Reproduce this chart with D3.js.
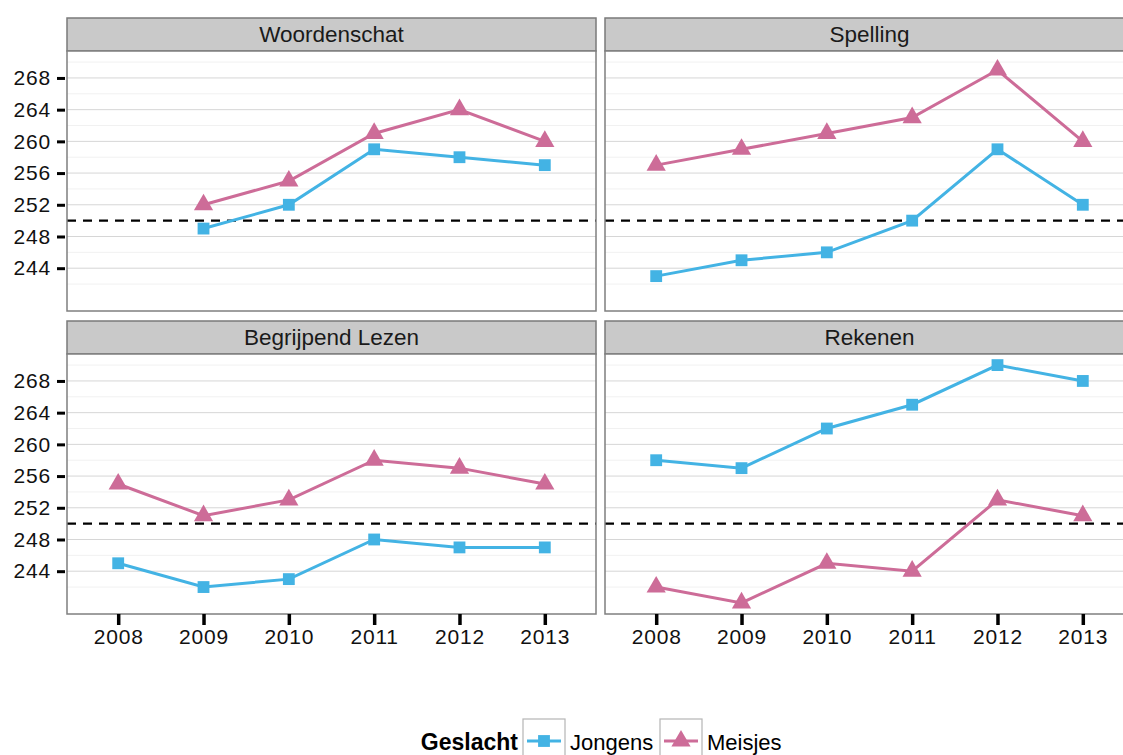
<!DOCTYPE html>
<html>
<head>
<meta charset="utf-8">
<script src="https://cdn.jsdelivr.net/npm/d3@7"></script>
<style>
  body { margin: 0; background: #fff; }
  svg { display: block; font-family: "Liberation Sans", Arial, sans-serif; }
</style>
</head>
<body>
<div id="chart"></div>
<script>
/* Small multiples: scores per subject, boys vs girls */

// data
const years = [2008, 2009, 2010, 2011, 2012, 2013];
const subjects = ["Woordenschat", "Spelling", "Begrijpend Lezen", "Rekenen"];
const woordenschatJongens = [null, 249, 252, 259, 258, 257];
const woordenschatMeisjes = [null, 252, 255, 261, 264, 260];
const spellingJongens = [243, 245, 246, 250, 259, 252];
const spellingMeisjes = [257, 259, 261, 263, 269, 260];
const lezenJongens = [245, 242, 243, 248, 247, 247];
const lezenMeisjes = [255, 251, 253, 258, 257, 255];
const rekenenJongens = [258, 257, 262, 265, 270, 268];
const rekenenMeisjes = [242, 240, 245, 244, 253, 251];
const yTicks = [244, 248, 252, 256, 260, 264, 268];
const yMinorTicks = [242, 246, 254, 258, 262, 266, 270];
const reference = 250;
const groups = ["Jongens", "Meisjes"];

const jongensBySubject = [woordenschatJongens, spellingJongens, lezenJongens, rekenenJongens];
const meisjesBySubject = [woordenschatMeisjes, spellingMeisjes, lezenMeisjes, rekenenMeisjes];

const width = 1123, height = 755;
const colors = { Jongens: "#43b3e4", Meisjes: "#cd6c98" };

// panel geometry (ggplot facet_wrap style)
const panelW = 529, stripH = 33, panelH = 260;
const cols = [67, 605];
const rows = [18, 321];

const svg = d3.select("#chart")
    .append("svg")
    .attr("width", width)
    .attr("height", height)
    .attr("viewBox", [0, 0, width, height]);

const x = d3.scaleLinear()
    .domain([2007.4, 2013.6])
    .range([0, panelW]);

const y = d3.scaleLinear()
    .domain([238.6, 271.4])
    .range([panelH, 0]);

const line = d3.line()
    .defined(d => d.v != null)
    .x(d => x(d.year))
    .y(d => y(d.v));

const square = d3.symbol().type(d3.symbolSquare).size(140);
const triangle = d3.symbol().type(d3.symbolTriangle).size(160);

subjects.forEach((name, i) => {
    const px = cols[i % 2], py = rows[Math.floor(i / 2)];
    const g = svg.append("g").attr("transform", `translate(${px},${py})`);

    // strip
    g.append("rect")
        .attr("x", 0).attr("y", 0)
        .attr("width", panelW).attr("height", stripH)
        .attr("fill", "#c9c9c9")
        .attr("stroke", "#7a7a7a")
        .attr("stroke-width", 1.5);
    g.append("text")
        .attr("x", panelW / 2)
        .attr("y", stripH / 2 + 7.5)
        .attr("text-anchor", "middle")
        .attr("font-size", 22.5)
        .attr("fill", "#1a1a1a")
        .text(name);

    const p = g.append("g").attr("transform", `translate(0,${stripH})`);

    p.append("rect")
        .attr("width", panelW).attr("height", panelH)
        .attr("fill", "#fff");

    // grid
    p.selectAll(".minor")
        .data(yMinorTicks)
        .join("line")
        .attr("x1", 0).attr("x2", panelW)
        .attr("y1", d => y(d)).attr("y2", d => y(d))
        .attr("stroke", "#f1f1f1")
        .attr("stroke-width", 1);
    p.selectAll(".major")
        .data(yTicks)
        .join("line")
        .attr("x1", 0).attr("x2", panelW)
        .attr("y1", d => y(d)).attr("y2", d => y(d))
        .attr("stroke", "#d6d6d6")
        .attr("stroke-width", 1);

    // reference line
    p.append("line")
        .attr("x1", 0).attr("x2", panelW)
        .attr("y1", y(reference)).attr("y2", y(reference))
        .attr("stroke", "#000")
        .attr("stroke-width", 2.2)
        .attr("stroke-dasharray", "9,7");

    const series = [
        { key: "Jongens", vals: jongensBySubject[i], sym: square },
        { key: "Meisjes", vals: meisjesBySubject[i], sym: triangle }
    ];

    series.forEach(s => {
        const pts = years.map((yr, j) => ({ year: yr, v: s.vals[j] }));
        p.append("path")
            .datum(pts)
            .attr("d", line)
            .attr("fill", "none")
            .attr("stroke", colors[s.key])
            .attr("stroke-width", 3);
        p.selectAll(null)
            .data(pts.filter(d => d.v != null))
            .join("path")
            .attr("transform", d => `translate(${x(d.year)},${y(d.v)})`)
            .attr("d", s.sym)
            .attr("fill", colors[s.key]);
    });

    // panel border
    p.append("rect")
        .attr("width", panelW).attr("height", panelH)
        .attr("fill", "none")
        .attr("stroke", "#7f7f7f")
        .attr("stroke-width", 1.5);

    // y axis on left column
    if (i % 2 === 0) {
        const ya = p.append("g")
            .call(d3.axisLeft(y).tickValues(yTicks).tickSize(10).tickPadding(6));
        ya.select(".domain").remove();
        ya.selectAll(".tick line")
            .attr("x2", -10).attr("x1", -2)
            .attr("stroke", "#000").attr("stroke-width", 3);
        ya.selectAll(".tick text")
            .attr("font-size", 21)
            .attr("letter-spacing", 0.8)
            .attr("font-family", "Liberation Sans, Arial, sans-serif")
            .attr("fill", "#111");
    }
    // x axis on bottom row
    if (i >= 2) {
        const xa = p.append("g")
            .attr("transform", `translate(0,${panelH})`)
            .call(d3.axisBottom(x).tickValues(years).tickFormat(d3.format("d")).tickSize(11).tickPadding(4));
        xa.select(".domain").remove();
        xa.selectAll(".tick line").attr("stroke", "#000").attr("stroke-width", 3.5);
        xa.selectAll(".tick text")
            .attr("font-size", 21)
            .attr("letter-spacing", 0.8)
            .attr("font-family", "Liberation Sans, Arial, sans-serif")
            .attr("fill", "#111");
    }
});

// legend
const legend = svg.append("g").attr("transform", "translate(0,741)");
legend.append("text")
    .attr("x", 518).attr("y", 9)
    .attr("text-anchor", "end")
    .attr("font-size", 23)
    .attr("font-weight", "bold")
    .text("Geslacht");

const keyX = [523, 660];
groups.forEach((k, j) => {
    const kg = legend.append("g").attr("transform", `translate(${keyX[j]},0)`);
    kg.append("rect")
        .attr("x", 0).attr("y", -22)
        .attr("width", 42).attr("height", 44)
        .attr("fill", "#fff")
        .attr("stroke", "#b5b5b5")
        .attr("stroke-width", 1.2);
    kg.append("line")
        .attr("x1", 4).attr("x2", 38)
        .attr("y1", 0).attr("y2", 0)
        .attr("stroke", colors[k])
        .attr("stroke-width", 3);
    kg.append("path")
        .attr("transform", "translate(21,0)")
        .attr("d", j === 0 ? square : triangle)
        .attr("fill", colors[k]);
    kg.append("text")
        .attr("x", 47).attr("y", 9)
        .attr("font-size", 22)
        .text(k);
});
</script>
</body>
</html>
